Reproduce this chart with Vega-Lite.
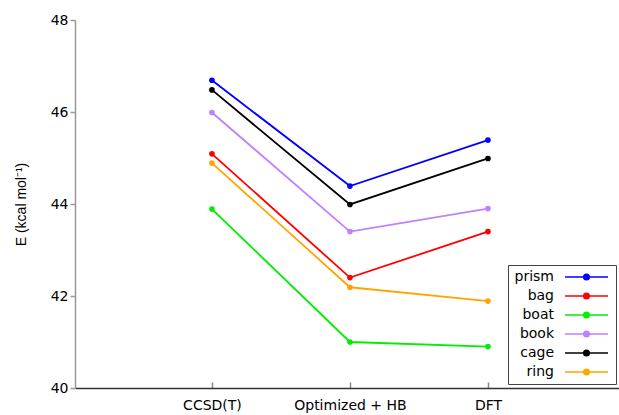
{
  "$schema": "https://vega.github.io/schema/vega-lite/v6.json",
  "width": 544,
  "height": 368,
  "autosize": "none",
  "padding": {"left": 75, "top": 20, "right": 0, "bottom": 27},
  "background": "white",
  "config": {"view": {"stroke": null}, "font": "DejaVu Sans"},
  "data": {"values": [
    {"s": "prism", "m": "CCSD(T)", "E": 46.69},
    {"s": "prism", "m": "Optimized + HB", "E": 44.39},
    {"s": "prism", "m": "DFT", "E": 45.39},
    {"s": "bag", "m": "CCSD(T)", "E": 45.09},
    {"s": "bag", "m": "Optimized + HB", "E": 42.4},
    {"s": "bag", "m": "DFT", "E": 43.4},
    {"s": "boat", "m": "CCSD(T)", "E": 43.89},
    {"s": "boat", "m": "Optimized + HB", "E": 41.0},
    {"s": "boat", "m": "DFT", "E": 40.9},
    {"s": "book", "m": "CCSD(T)", "E": 45.99},
    {"s": "book", "m": "Optimized + HB", "E": 43.4},
    {"s": "book", "m": "DFT", "E": 43.9},
    {"s": "cage", "m": "CCSD(T)", "E": 46.48},
    {"s": "cage", "m": "Optimized + HB", "E": 43.99},
    {"s": "cage", "m": "DFT", "E": 44.99},
    {"s": "ring", "m": "CCSD(T)", "E": 44.89},
    {"s": "ring", "m": "Optimized + HB", "E": 42.19},
    {"s": "ring", "m": "DFT", "E": 41.89}
  ]},
  "mark": {"type": "line", "strokeWidth": 1.8, "point": {"filled": true, "size": 32}},
  "encoding": {
    "x": {
      "field": "m", "type": "nominal",
      "sort": ["CCSD(T)", "Optimized + HB", "DFT"],
      "scale": {"type": "point", "padding": 0.971, "align": 0.511},
      "axis": {
        "title": null, "labelAngle": 0, "grid": false,
        "domainColor": "#333", "domainWidth": 1.5,
        "tickColor": "#888", "tickSize": -6, "tickWidth": 1.5,
        "labelFontSize": 14, "labelFont": "DejaVu Sans", "labelColor": "#000",
        "labelPadding": 16
      }
    },
    "y": {
      "field": "E", "type": "quantitative",
      "scale": {"domain": [40, 48], "nice": false, "zero": false},
      "axis": {
        "title": "E (kcal mol⁻¹)", "titleFont": "Liberation Sans", "titleFontSize": 14,
        "titleFontWeight": "normal", "titleColor": "#000", "titlePadding": 22,
        "values": [40, 42, 44, 46, 48], "grid": false,
        "domainColor": "#999", "domainWidth": 1.5,
        "tickColor": "#999", "tickSize": 5, "tickWidth": 1.5,
        "labelFontSize": 14, "labelFont": "DejaVu Sans", "labelColor": "#000",
        "labelPadding": 2
      }
    },
    "color": {
      "field": "s", "type": "nominal",
      "scale": {
        "domain": ["prism", "bag", "boat", "book", "cage", "ring"],
        "range": ["#0000ff", "#ff0000", "#00ee00", "#c080ff", "#000000", "#ffa500"]
      },
      "legend": {
        "title": null, "orient": "none", "legendX": 433, "legendY": 245,
        "strokeColor": "#444", "fillColor": "white", "padding": 5,
        "labelFont": "DejaVu Sans", "labelFontSize": 14, "labelColor": "#000",
        "labelAlign": "right", "labelOffset": -39.5, "symbolOffset": 66.5,
        "symbolType": "M-4.3,0L4.3,0M0.56,0A0.56,0.56,0,1,1,-0.56,0A0.56,0.56,0,1,1,0.56,0Z",
        "symbolSize": 100, "symbolStrokeWidth": 1.5, "rowPadding": 5,
        "encode": {"symbols": {"update": {
          "fill": {"scale": "color", "field": "value"},
          "stroke": {"scale": "color", "field": "value"},
          "opacity": {"value": 1}
        }}}
      }
    }
  }
}
